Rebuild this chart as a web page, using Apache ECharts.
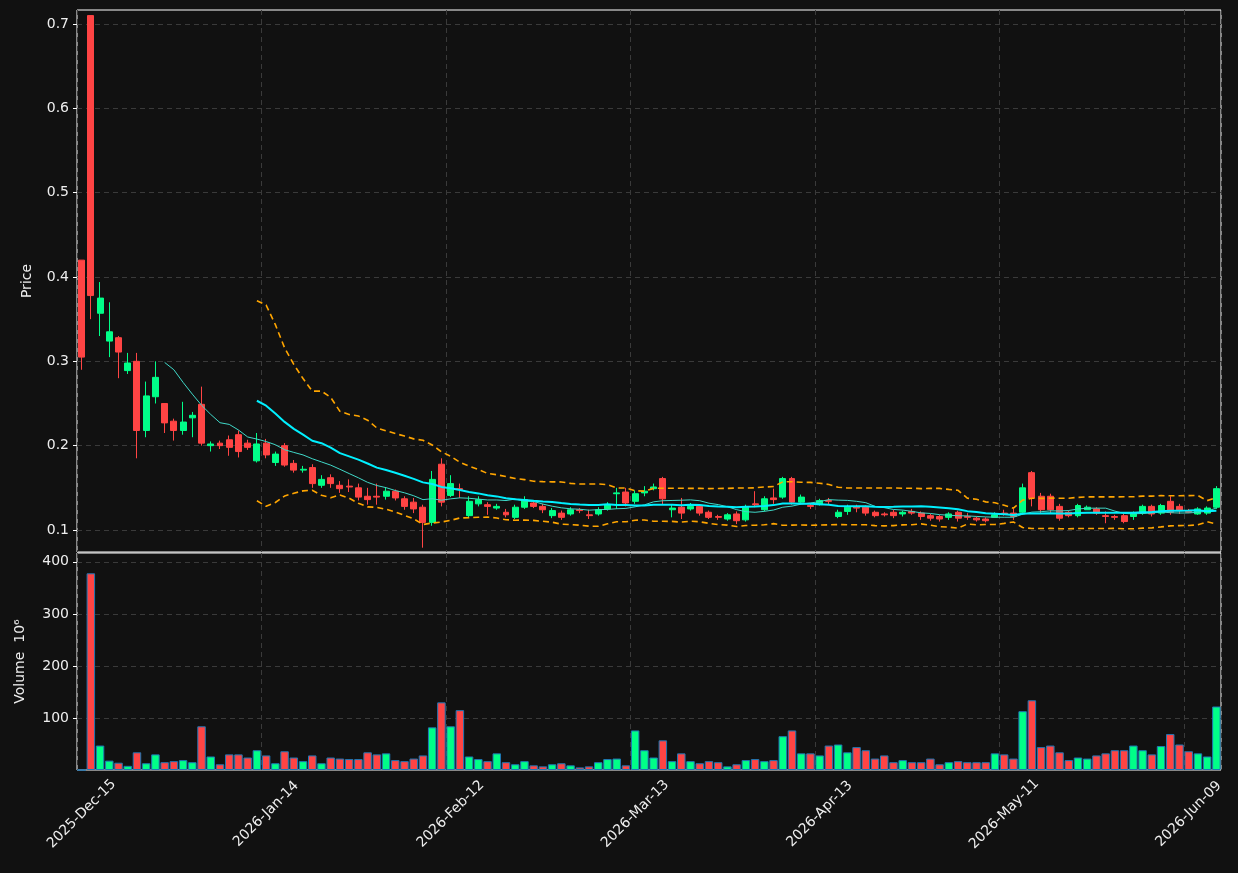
<!DOCTYPE html>
<html><head><meta charset="utf-8">
<script src="https://cdn.jsdelivr.net/npm/echarts@6/dist/echarts.min.js"></script>
<style>html,body{margin:0;padding:0;background:#111111;}#c{width:1238px;height:873px;}</style>
</head><body><div id="c"></div>
<script>
// trading-day calendar (NYSE holidays skipped)
const startDate = '2025-12-15';
const holidays = ['2025-12-25','2026-01-01','2026-01-19','2026-02-16','2026-04-03','2026-05-25'];
const barCount = 124;

const opens = [0.42,0.71,0.357,0.324,0.328,0.289,0.30,0.218,0.258,0.25,
0.229,0.218,0.233,0.249,0.200,0.203,0.207,0.213,0.203,0.182,
0.203,0.180,0.200,0.179,0.171,0.174,0.153,0.162,0.153,0.152,
0.150,0.140,0.140,0.140,0.146,0.137,0.133,0.127,0.109,0.178,
0.141,0.149,0.117,0.131,0.130,0.126,0.121,0.115,0.127,0.132,
0.128,0.117,0.120,0.119,0.124,0.118,0.119,0.125,0.143,0.145,
0.134,0.144,0.149,0.161,0.124,0.127,0.125,0.128,0.121,0.116,
0.113,0.119,0.112,0.131,0.124,0.138,0.139,0.161,0.133,0.129,
0.130,0.135,0.116,0.122,0.127,0.127,0.121,0.119,0.121,0.119,
0.122,0.120,0.117,0.116,0.115,0.121,0.116,0.114,0.113,0.115,
0.120,0.120,0.121,0.168,0.140,0.140,0.128,0.121,0.117,0.124,
0.125,0.117,0.116,0.117,0.116,0.120,0.128,0.120,0.134,0.128,
0.122,0.119,0.120,0.127];
const closes = [0.305,0.378,0.375,0.335,0.311,0.298,0.218,0.259,0.281,0.227,
0.218,0.228,0.236,0.203,0.202,0.200,0.198,0.193,0.198,0.202,
0.189,0.190,0.177,0.171,0.172,0.155,0.160,0.155,0.149,0.151,
0.139,0.136,0.139,0.146,0.138,0.128,0.125,0.109,0.160,0.133,
0.155,0.148,0.134,0.136,0.128,0.128,0.118,0.127,0.136,0.128,
0.124,0.123,0.115,0.124,0.123,0.117,0.124,0.130,0.144,0.132,
0.143,0.146,0.151,0.137,0.126,0.120,0.128,0.120,0.115,0.115,
0.118,0.111,0.127,0.130,0.137,0.136,0.161,0.133,0.139,0.128,
0.135,0.134,0.121,0.127,0.126,0.120,0.117,0.118,0.117,0.121,
0.120,0.116,0.114,0.113,0.119,0.114,0.115,0.112,0.111,0.118,
0.119,0.116,0.150,0.138,0.124,0.124,0.114,0.117,0.129,0.127,
0.120,0.116,0.115,0.110,0.120,0.128,0.119,0.129,0.121,0.123,
0.121,0.125,0.126,0.149];
const highs = [0.42,0.71,0.394,0.37,0.33,0.31,0.31,0.276,0.30,0.25,
0.232,0.252,0.24,0.27,0.205,0.206,0.212,0.218,0.207,0.215,
0.208,0.193,0.203,0.183,0.176,0.178,0.165,0.166,0.158,0.160,
0.155,0.150,0.155,0.150,0.148,0.140,0.138,0.130,0.170,0.185,
0.165,0.155,0.140,0.140,0.133,0.131,0.125,0.130,0.140,0.135,
0.131,0.126,0.123,0.127,0.126,0.124,0.127,0.133,0.150,0.150,
0.147,0.152,0.155,0.163,0.130,0.138,0.132,0.130,0.123,0.118,
0.120,0.122,0.130,0.146,0.140,0.149,0.163,0.163,0.142,0.132,
0.137,0.138,0.124,0.130,0.130,0.129,0.123,0.121,0.124,0.123,
0.125,0.122,0.119,0.118,0.121,0.123,0.120,0.116,0.115,0.121,
0.124,0.125,0.155,0.170,0.144,0.143,0.131,0.123,0.131,0.129,
0.127,0.122,0.118,0.119,0.122,0.130,0.130,0.131,0.140,0.131,
0.125,0.127,0.128,0.152];
const lows = [0.29,0.35,0.33,0.305,0.28,0.285,0.185,0.21,0.25,0.215,
0.206,0.213,0.21,0.200,0.193,0.196,0.188,0.186,0.195,0.180,
0.185,0.176,0.175,0.168,0.168,0.150,0.150,0.150,0.144,0.145,
0.135,0.130,0.130,0.136,0.135,0.124,0.120,0.079,0.105,0.128,
0.139,0.138,0.115,0.128,0.118,0.124,0.115,0.113,0.125,0.126,
0.120,0.114,0.112,0.117,0.120,0.113,0.117,0.123,0.125,0.128,
0.131,0.140,0.147,0.130,0.115,0.113,0.123,0.117,0.113,0.112,
0.111,0.107,0.110,0.127,0.122,0.131,0.137,0.130,0.131,0.125,
0.129,0.130,0.114,0.118,0.121,0.117,0.115,0.116,0.114,0.116,
0.118,0.112,0.111,0.110,0.112,0.110,0.112,0.110,0.109,0.115,
0.117,0.112,0.118,0.128,0.120,0.120,0.111,0.115,0.115,0.124,
0.118,0.108,0.112,0.108,0.112,0.118,0.116,0.118,0.118,0.119,
0.120,0.118,0.118,0.125];
const volumes = [0,378,47,18,14,8,34,13,30,15,
17,19,15,84,26,11,30,30,24,38,
28,13,36,24,17,28,13,24,22,21,
21,34,30,32,19,17,22,28,82,130,
84,115,26,21,17,32,15,11,17,9,
7,11,13,9,5,7,15,21,22,9,
76,38,24,57,17,32,17,13,17,15,
7,11,19,21,17,19,65,76,32,32,
28,47,49,34,44,38,22,28,15,19,
15,15,22,11,15,17,15,15,15,32,
30,22,113,134,44,47,34,19,24,22,
28,32,38,38,47,38,30,46,69,49,
36,32,26,122];
const priceTicks = [0.1,0.2,0.3,0.4,0.5,0.6,0.7];
const volumeTicks = [100,200,300,400];
const labelEvery = 20;

// build dates
const months = ['Jan','Feb','Mar','Apr','May','Jun','Jul','Aug','Sep','Oct','Nov','Dec'];
const dates = [];
let d = new Date(startDate + 'T00:00:00Z');
while (dates.length < barCount) {
  const iso = d.toISOString().slice(0,10);
  const wd = d.getUTCDay();
  if (wd !== 0 && wd !== 6 && !holidays.includes(iso)) {
    dates.push(d.getUTCFullYear() + '-' + months[d.getUTCMonth()] + '-' + String(d.getUTCDate()).padStart(2,'0'));
  }
  d = new Date(d.getTime() + 86400000);
}

function ma(n) {
  return closes.map((_, i) => {
    if (i < n - 1) return '-';
    let s = 0; for (let k = i - n + 1; k <= i; k++) s += closes[k];
    return +(s / n).toFixed(5);
  });
}
function band(n, mult) {
  return closes.map((_, i) => {
    if (i < n - 1) return '-';
    let s = 0; for (let k = i - n + 1; k <= i; k++) s += closes[k];
    const m = s / n; let v = 0;
    for (let k = i - n + 1; k <= i; k++) v += (closes[k] - m) ** 2;
    return +(m + mult * Math.sqrt(v / n)).toFixed(5);
  });
}
const ma10 = ma(10), ma20 = ma(20), up = band(20, 2), dn = band(20, -2);
const candle = opens.map((o, i) => [o, closes[i], lows[i], highs[i]]);
const UP = '#00ff88', DOWN = '#ff4444';
const volData = volumes.map((v, i) => ({ value: v, itemStyle: { color: closes[i] >= opens[i] ? UP : DOWN } }));

const font = 'DejaVu Sans';
const txt = '#eeeeee';
const chart = echarts.init(document.getElementById('c'));
const gridLine = { show: true, lineStyle: { color: '#3a3a3a', type: [5, 4], width: 1 } };
const xCommon = {
  type: 'category', data: dates, boundaryGap: true,
  axisLine: { show: false }, axisTick: { show: false },
  splitLine: Object.assign({ interval: (i) => i % labelEvery === 0 }, gridLine)
};
chart.setOption({
  backgroundColor: '#111111',
  animation: false,
  textStyle: { fontFamily: font },
  grid: [
    { left: 77, right: 17, top: 10, height: 542, show: true, borderColor: '#ffffff', borderWidth: 1, backgroundColor: 'transparent' },
    { left: 77, right: 17, top: 553, height: 217, show: true, borderColor: '#ffffff', borderWidth: 1, backgroundColor: 'transparent' }
  ],
  xAxis: [
    Object.assign({ gridIndex: 0, axisLabel: { show: false } }, xCommon),
    Object.assign({ gridIndex: 1, axisLabel: { color: txt, fontSize: 14, fontFamily: font, rotate: 45, align: 'center', verticalAlign: 'middle', interval: (i) => i % labelEvery === 0, margin: 44 } }, xCommon)
  ],
  yAxis: [
    { gridIndex: 0, type: 'value', min: 0.0739, max: 0.7166, name: 'Price', nameLocation: 'middle', nameGap: 43,
      nameTextStyle: { color: txt, fontSize: 14, fontFamily: font },
      axisLine: { show: false }, axisTick: { show: true, customValues: priceTicks, lineStyle: { color: '#ffffff' }, length: 4 },
      axisLabel: { color: txt, fontSize: 14, fontFamily: font, customValues: priceTicks, formatter: (v) => v.toFixed(1) },
      splitLine: gridLine },
    { gridIndex: 1, type: 'value', min: 0, max: 417, name: 'Volume  10⁶', nameLocation: 'middle', nameGap: 50,
      nameTextStyle: { color: txt, fontSize: 14, fontFamily: font },
      axisLine: { show: false }, axisTick: { show: true, customValues: volumeTicks, lineStyle: { color: '#ffffff' }, length: 4 },
      axisLabel: { color: txt, fontSize: 14, fontFamily: font, customValues: volumeTicks },
      splitLine: gridLine }
  ],
  series: [
    { type: 'candlestick', xAxisIndex: 0, yAxisIndex: 0, data: candle, barWidth: '70%',
      itemStyle: { color: UP, color0: DOWN, borderColor: UP, borderColor0: DOWN, borderWidth: 1 } },
    { type: 'line', data: ma10, xAxisIndex: 0, yAxisIndex: 0, showSymbol: false, lineStyle: { color: '#40d8c8', width: 1 }, z: 3 },
    { type: 'line', data: ma20, xAxisIndex: 0, yAxisIndex: 0, showSymbol: false, lineStyle: { color: '#00f0ff', width: 2 }, z: 3 },
    { type: 'line', data: up, xAxisIndex: 0, yAxisIndex: 0, showSymbol: false, lineStyle: { color: '#ffa500', width: 1.6, type: [6, 4] }, z: 3 },
    { type: 'line', data: dn, xAxisIndex: 0, yAxisIndex: 0, showSymbol: false, lineStyle: { color: '#ffa500', width: 1.6, type: [6, 4] }, z: 3 },
    { type: 'bar', xAxisIndex: 1, yAxisIndex: 1, data: volData, barWidth: '92%',
      itemStyle: { borderColor: '#1f77b4', borderWidth: 1 } }
  ]
});
</script></body></html>
